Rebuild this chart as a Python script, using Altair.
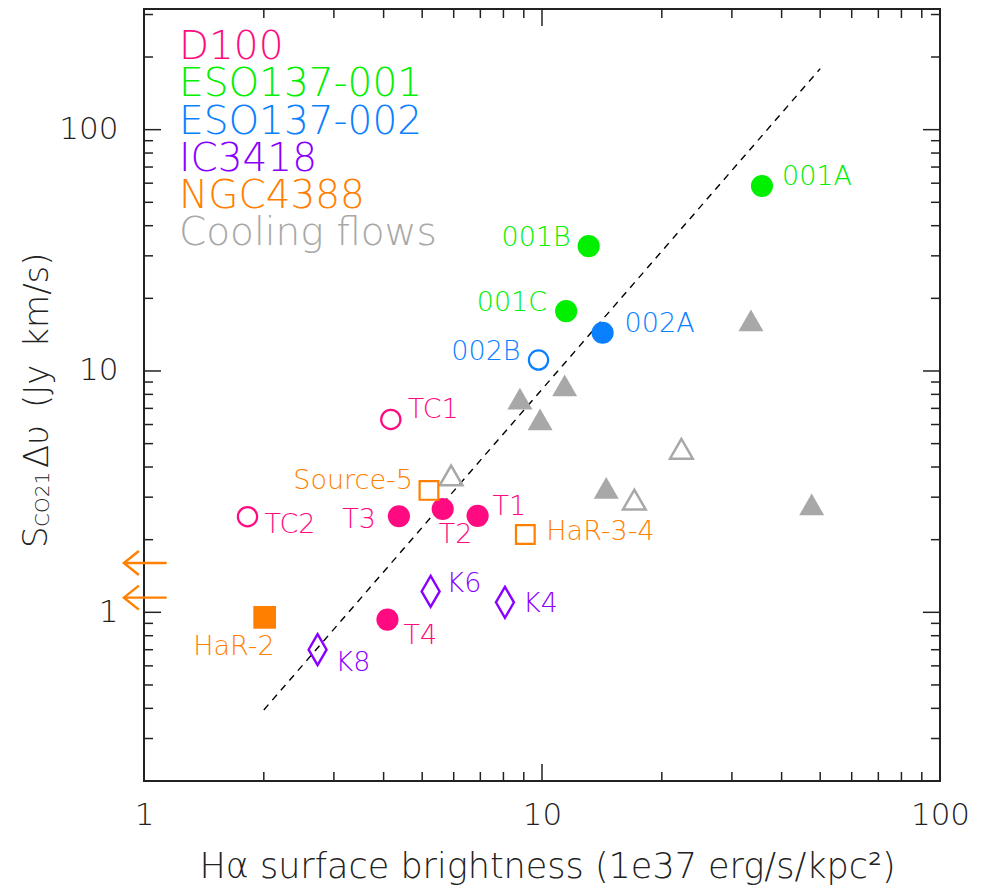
import altair as alt
import pandas as pd

# ------------------------------------------------------------------ data
src_names = ["001A", "001B", "001C", "002A", "002B",
             "TC1", "TC2", "T1", "T2", "T3", "T4",
             "Source-5", "HaR-3-4", "HaR-2",
             "K4", "K6", "K8"]
src_group = ["ESO137-001", "ESO137-001", "ESO137-001", "ESO137-002", "ESO137-002",
             "D100", "D100", "D100", "D100", "D100", "D100",
             "NGC4388", "NGC4388", "NGC4388",
             "IC3418", "IC3418", "IC3418"]
src_halpha = [35.7, 13.1, 11.5, 14.2, 9.8,
              4.17, 1.82, 6.89, 5.63, 4.37, 4.09,
              5.2, 9.08, 2.01,
              8.07, 5.25, 2.73]
src_sco = [58.4, 32.9, 17.7, 14.4, 11.1,
           6.3, 2.49, 2.51, 2.68, 2.50, 0.933,
           3.2, 2.10, 0.953,
           1.10, 1.22, 0.70]
src_marker = ["circle_f", "circle_f", "circle_f", "circle_f", "circle_o",
              "circle_o", "circle_o", "circle_f", "circle_f", "circle_f", "circle_f",
              "square_o", "square_o", "square_f",
              "diamond_o", "diamond_o", "diamond_o"]

cf_halpha = [33.5, 8.8, 11.4, 9.89, 14.5, 47.6, 22.4, 17.06, 5.91]
cf_sco = [16.2, 7.68, 8.72, 6.3, 3.28, 2.80, 4.76, 2.93, 3.69]
cf_filled = [True, True, True, True, True, True, False, False, False]

ul_sco = [1.60, 1.15]
ul_halpha_from = [1.14, 1.14]
ul_halpha_to = [0.89, 0.89]

fit_halpha = [2.0, 50.0]
fit_sco = [0.394, 179.0]

legend_names = ["D100", "ESO137-001", "ESO137-002", "IC3418", "NGC4388", "Cooling flows"]

x_major = [1, 10, 100]
x_minor = [2, 3, 4, 5, 6, 7, 8, 9, 20, 30, 40, 50, 60, 70, 80, 90]
y_major = [1, 10, 100]
y_minor = [0.2, 0.3, 0.4, 0.5, 0.6, 0.7, 0.8, 0.9, 2, 3, 4, 5, 6, 7, 8, 9,
           20, 30, 40, 50, 60, 70, 80, 90, 200, 300]

# ------------------------------------------------------------------ style
W, H = 796, 772
FONT = "DejaVu Sans"
FW = 300
FRAME = "#222222"
colors = {"D100": "#FF0A80", "ESO137-001": "#00F000", "ESO137-002": "#0A80FF",
          "IC3418": "#8A00FF", "NGC4388": "#FF8000", "Cooling flows": "#A8A8A8"}

df = pd.DataFrame({"name": src_names, "group": src_group,
                   "ha": src_halpha, "sco": src_sco, "marker": src_marker})
cf = pd.DataFrame({"ha": cf_halpha, "sco": cf_sco, "filled": cf_filled})
ul = pd.DataFrame({"ha": ul_halpha_from, "ha2": ul_halpha_to, "sco": ul_sco})
fit = pd.DataFrame({"ha": fit_halpha, "sco": fit_sco})

xs = alt.Scale(type="log", domain=[1, 100], nice=False)
ys = alt.Scale(type="log", domain=[0.2, 316.2], nice=False)

AX = alt.Axis(values=x_major, format="~g", ticks=False, tickSize=0, domain=False, grid=False,
              labelFontSize=31, labelPadding=19, labelFlush=False, labelFont=FONT,
              labelFontWeight=FW, labelColor=FRAME, title=None)
AY = alt.Axis(values=y_major, format="~g", ticks=False, tickSize=0, domain=False, grid=False,
              labelFontSize=31, labelPadding=26, labelFlush=False, labelFont=FONT,
              labelFontWeight=FW, labelColor=FRAME, title=None)


def xe(f):
    return alt.X(f"{f}:Q", scale=xs, axis=AX)


def ye(f):
    return alt.Y(f"{f}:Q", scale=ys, axis=AY)


layers = []

# frame ticks (inward, IDL style)
for vals, L in [(x_major, 17), (x_minor, 9)]:
    d = pd.DataFrame({"v": vals})
    layers.append(alt.Chart(d).mark_rule(color=FRAME, strokeWidth=1.5).encode(
        x=xe("v"), y=alt.value(H), y2=alt.value(H - L)))
    layers.append(alt.Chart(d).mark_rule(color=FRAME, strokeWidth=1.5).encode(
        x=xe("v"), y=alt.value(0), y2=alt.value(L)))
for vals, L in [(y_major, 17), (y_minor, 9)]:
    d = pd.DataFrame({"v": vals})
    layers.append(alt.Chart(d).mark_rule(color=FRAME, strokeWidth=1.5).encode(
        y=ye("v"), x=alt.value(0), x2=alt.value(L)))
    layers.append(alt.Chart(d).mark_rule(color=FRAME, strokeWidth=1.5).encode(
        y=ye("v"), x=alt.value(W), x2=alt.value(W - L)))

# dashed relation
layers.append(alt.Chart(fit).mark_line(color="black", strokeDash=[7, 6], strokeWidth=1.4).encode(
    x=xe("ha"), y=ye("sco")))

color_enc = alt.Color("group:N", scale=alt.Scale(domain=list(colors.keys()),
                                                 range=list(colors.values())), legend=None)

# cooling flows
layers.append(alt.Chart(cf).transform_filter(alt.datum.filled).mark_point(
    shape="triangle-up", filled=True, size=625, opacity=1, color=colors["Cooling flows"]).encode(
    x=xe("ha"), y=ye("sco")))
layers.append(alt.Chart(cf).transform_filter(~alt.datum.filled).mark_point(
    shape="triangle-up", filled=False, size=520, opacity=1, strokeWidth=2.5,
    color=colors["Cooling flows"]).encode(x=xe("ha"), y=ye("sco")))

# sources
marker_styles = {
    "circle_f": dict(shape="circle", filled=True, size=490),
    "circle_o": dict(shape="circle", filled=False, size=370, strokeWidth=2.2),
    "square_f": dict(shape="square", filled=True, size=515),
    "square_o": dict(shape="square", filled=False, size=350, strokeWidth=2.2),
    "diamond_o": dict(shape="M0,-1L0.58,0L0,1L-0.58,0Z", filled=False, size=961, strokeWidth=2.4),
}
for m, st in marker_styles.items():
    layers.append(alt.Chart(df).transform_filter(alt.datum.marker == m).mark_point(
        opacity=1, **st).encode(x=xe("ha"), y=ye("sco"), color=color_enc))

# upper-limit arrows
layers.append(alt.Chart(ul).mark_rule(color=colors["NGC4388"], strokeWidth=2.4, clip=False).encode(
    x=xe("ha"), x2="ha2:Q", y=ye("sco")))
layers.append(alt.Chart(ul).mark_point(shape="M1,-0.8L0,0L1,0.8", filled=False, size=900,
                                       strokeWidth=2.4, opacity=1, color=colors["NGC4388"],
                                       clip=False).encode(x=xe("ha2"), y=ye("sco")))

# point labels: (dx, dy, align)
label_pos = {
    "001A": (20, -9, "left"), "001B": (-18, -8, "right"), "001C": (-19, -8, "right"),
    "002A": (22, -9, "left"), "002B": (-18, -8, "right"),
    "TC1": (17, -9, "left"), "TC2": (17, 8, "left"), "T1": (15, -9, "left"),
    "T2": (-4, 26, "left"), "T3": (-23, 4, "right"), "T4": (16, 16, "left"),
    "Source-5": (-16, -9, "right"), "HaR-3-4": (21, -3, "left"), "HaR-2": (10, 30, "right"),
    "K4": (18, 2, "left"), "K6": (16, -7, "left"), "K8": (18, 13, "left"),
}
for n, (dx, dy, al) in label_pos.items():
    layers.append(alt.Chart(df).transform_filter(alt.datum.name == n).mark_text(
        dx=dx, dy=dy, align=al, baseline="middle", font=FONT, fontWeight=FW, fontSize=27).encode(
        x=xe("ha"), y=ye("sco"), text="name:N", color=color_enc))

# legend block (text only)
leg = pd.DataFrame({"group": legend_names})
for i, g in enumerate(legend_names):
    layers.append(alt.Chart(leg).transform_filter(alt.datum.group == g).mark_text(
        align="left", baseline="alphabetic", font=FONT, fontWeight=FW, fontSize=39).encode(
        x=alt.value(35), y=alt.value(50.3 + i * 37.1), text="group:N", color=color_enc))

# axis titles as text
YT = "\u0394\u03c5\u2002(Jy\u2002km/s)"
XT = "H\u03b1 surface brightness (1e37 erg/s/kpc\u00b2)"
tdf = pd.DataFrame({"t": ["S", "CO21", YT, XT]})
layers.append(alt.Chart(tdf).transform_filter(alt.datum.t == "S").mark_text(
    angle=270, align="left", baseline="alphabetic", font=FONT, fontWeight=FW, fontSize=34,
    color=FRAME).encode(x=alt.value(-97), y=alt.value(539), text="t:N"))
layers.append(alt.Chart(tdf).transform_filter(alt.datum.t == "CO21").mark_text(
    angle=270, align="left", baseline="alphabetic", font=FONT, fontWeight=FW, fontSize=20,
    color=FRAME).encode(x=alt.value(-95.5), y=alt.value(518), text="t:N"))
layers.append(alt.Chart(tdf).transform_filter(alt.datum.t == YT).mark_text(
    angle=270, align="left", baseline="alphabetic", font=FONT, fontWeight=FW, fontSize=34,
    color=FRAME).encode(x=alt.value(-96), y=alt.value(459), text="t:N"))
layers.append(alt.Chart(tdf).transform_filter(alt.datum.t == XT).mark_text(
    align="center", baseline="alphabetic", font=FONT, fontWeight=FW, fontSize=35,
    color=FRAME).encode(x=alt.value(403.5), y=alt.value(869), text="t:N"))

chart = alt.layer(*layers).properties(
    width=W, height=H,
    autosize=alt.AutoSizeParams(type="none"),
    padding={"left": 144, "top": 9, "right": 42, "bottom": 106},
    background="white",
).configure_view(stroke=FRAME, strokeWidth=2)

chart.save("out.html", embed_options={"renderer": "svg", "actions": False})
